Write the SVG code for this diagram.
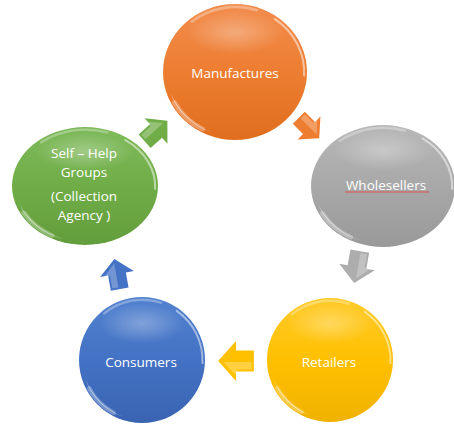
<svg xmlns="http://www.w3.org/2000/svg" xmlns:xlink="http://www.w3.org/1999/xlink" width="454" height="424" viewBox="0 0 454 424">
<style>
.lbl{font-family:"Open Sans","Liberation Sans",sans-serif;font-size:13.5px;fill:#ffffff;text-anchor:middle}
</style>
<defs>
<linearGradient id="gO" x1="0" y1="0" x2="0" y2="1"><stop offset="0" stop-color="#F28D4E"/><stop offset="0.5" stop-color="#ED7D31"/><stop offset="1" stop-color="#E06E1E"/></linearGradient>
<linearGradient id="gG" x1="0" y1="0" x2="0" y2="1"><stop offset="0" stop-color="#B8B8B8"/><stop offset="0.5" stop-color="#A8A8A8"/><stop offset="1" stop-color="#999999"/></linearGradient>
<linearGradient id="gY" x1="0" y1="0" x2="0" y2="1"><stop offset="0" stop-color="#FFCB2C"/><stop offset="0.5" stop-color="#FFC000"/><stop offset="1" stop-color="#F0B200"/></linearGradient>
<linearGradient id="gB" x1="0" y1="0" x2="0" y2="1"><stop offset="0" stop-color="#5282CF"/><stop offset="0.5" stop-color="#4472C4"/><stop offset="1" stop-color="#3A64B2"/></linearGradient>
<linearGradient id="gN" x1="0" y1="0" x2="0" y2="1"><stop offset="0" stop-color="#7FBA5C"/><stop offset="0.5" stop-color="#70AD47"/><stop offset="1" stop-color="#639D3C"/></linearGradient>
<radialGradient id="sheen" cx="0.5" cy="0.5" r="0.5"><stop offset="0" stop-color="#ffffff" stop-opacity="0.3"/><stop offset="1" stop-color="#ffffff" stop-opacity="0"/></radialGradient>
<g id="gloss" fill="none" stroke="#ffffff" stroke-linecap="round">
<ellipse cx="0" cy="-58" rx="68" ry="32" fill="url(#sheen)" stroke="none"/>
<path d="M -90,30 A 96 96 0 0 0 -30,90 A 110 110 0 0 1 -90,30 Z" fill="#ffffff" fill-opacity="0.7" stroke="none"/>
<path d="M -84,45 A 95 95 0 0 0 -45,84" stroke-width="7" stroke-opacity="0.3"/>
<path d="M 55,-78 A 96 96 0 0 1 96,5" stroke-width="3" stroke-opacity="0.5"/>
<path d="M -60,-74 A 96 96 0 0 1 30,-91" stroke-width="4" stroke-opacity="0.3"/>
</g>
<polygon id="arw" points="-17,-10 0,-10 0,-19 17,0 0,19 0,10 -17,10"/>
<polygon id="arwhl" points="-15,-8 -1,-8 -1,-15 12,-1 -15,-1" fill="#ffffff" fill-opacity="0.25"/>
</defs>

<g id="connectors">
<g transform="translate(309,128) rotate(45) scale(0.85)"><use xlink:href="#arw" fill="#ED7D31"/><use xlink:href="#arwhl"/></g>
<g transform="translate(357,267) rotate(100) scale(0.95)"><use xlink:href="#arw" fill="#ADADAD"/><use xlink:href="#arwhl"/></g>
<g transform="translate(236,361) rotate(180) scale(1.05)"><use xlink:href="#arw" fill="#FFC000"/><use xlink:href="#arwhl"/></g>
<g transform="translate(117,274) rotate(-100) scale(0.9)"><use xlink:href="#arw" fill="#4472C4"/><use xlink:href="#arwhl"/></g>
<g transform="translate(156,131) rotate(-42) scale(0.9)"><use xlink:href="#arw" fill="#70AD47"/><use xlink:href="#arwhl"/></g>
</g>

<g id="manufactures">
<ellipse cx="235" cy="72" rx="72" ry="68" fill="url(#gO)"/>
<use xlink:href="#gloss" transform="translate(235,72) scale(0.72,0.68)"/>
<text class="lbl" x="235" y="78">Manufactures</text>
</g>

<g id="wholesellers">
<ellipse cx="383" cy="186" rx="72" ry="61" fill="url(#gG)"/>
<use xlink:href="#gloss" transform="translate(383,186) scale(0.72,0.61)"/>
<text class="lbl" x="386" y="190">Wholesellers</text>
<line x1="345" y1="192" x2="429" y2="192" stroke="#E05050" stroke-width="1"/>
</g>

<g id="retailers">
<ellipse cx="330" cy="360" rx="63" ry="62" fill="url(#gY)"/>
<use xlink:href="#gloss" transform="translate(330,360) scale(0.63,0.62)"/>
<text class="lbl" x="329" y="367">Retailers</text>
</g>

<g id="consumers">
<ellipse cx="142" cy="360" rx="63" ry="63" fill="url(#gB)"/>
<use xlink:href="#gloss" transform="translate(142,360) scale(0.63,0.63)"/>
<text class="lbl" x="141" y="367">Consumers</text>
</g>

<g id="self-help-groups">
<ellipse cx="85" cy="186" rx="73" ry="59" fill="url(#gN)"/>
<use xlink:href="#gloss" transform="translate(85,186) scale(0.73,0.59)"/>
<text class="lbl" x="84" y="158">Self – Help</text>
<text class="lbl" x="84" y="177">Groups</text>
<text class="lbl" x="84" y="201">(Collection</text>
<text class="lbl" x="84" y="220">Agency )</text>
</g>
</svg>
